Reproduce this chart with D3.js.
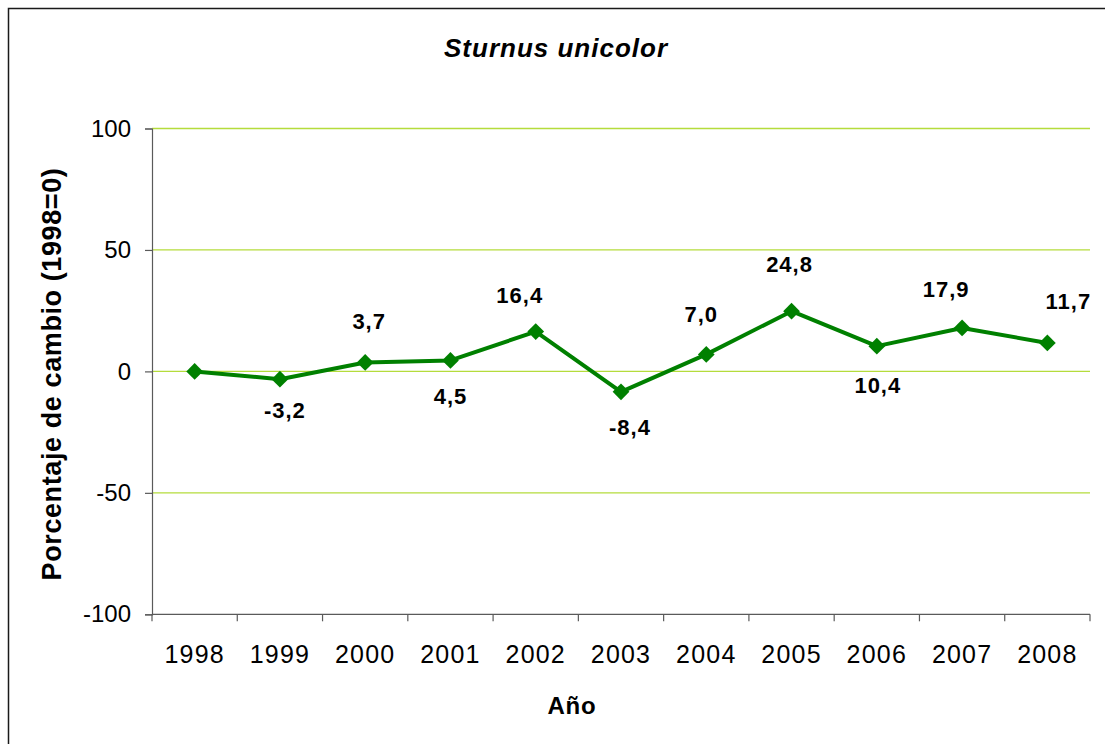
<!DOCTYPE html>
<html>
<head>
<meta charset="utf-8">
<script src="https://cdn.jsdelivr.net/npm/d3@7"></script>
<style>
  html, body { margin: 0; padding: 0; background: #fff; }
  svg { display: block; font-family: Arial, "Liberation Sans", sans-serif; }
</style>
</head>
<body>
<svg id="chart" width="1105" height="744"></svg>
<script>
// Yearly change of the population index (1998 = 0)
const years = ["1998", "1999", "2000", "2001", "2002", "2003", "2004", "2005", "2006", "2007", "2008"];
const change = [0, -3.2, 3.7, 4.5, 16.4, -8.4, 7.0, 24.8, 10.4, 17.9, 11.7];
const showLabel = [false, true, true, true, true, true, true, true, true, true, true];
const yTicks = [-100, -50, 0, 50, 100];
const gridValues = [-50, 0, 50, 100];

// Hand placement of each value label relative to its marker [dx, dy to baseline]
const labelNudge = [[0, 0], [5, 39], [4, -33], [0, 44], [-16, -29], [9, 43], [-5, -32], [-2, -39], [1, 47], [-16, -31], [21, -34]];

const locale = d3.formatLocale({ decimal: ",", thousands: ".", grouping: [3], currency: ["", "€"], minus: "-" });
const fmtValue = locale.format(".1f");
const fmtTick = locale.format("d");

const svg = d3.select("#chart");
const plot = { left: 152, right: 1090, top: 128.5, bottom: 614.3 };

// Outer frame
svg.append("rect")
  .attr("x", 8.5).attr("y", 8.5)
  .attr("width", 1110).attr("height", 750)
  .attr("fill", "none").attr("stroke", "#1a1a1a").attr("stroke-width", 1.5);

const x = d3.scaleBand().domain(years).range([plot.left, plot.right]).padding(0);
const y = d3.scaleLinear().domain([-100, 100]).range([plot.bottom, plot.top]);
const cx = d => x(d) + x.bandwidth() / 2;

// Horizontal gridlines
svg.append("g").selectAll("line").data(gridValues).join("line")
  .attr("x1", plot.left).attr("x2", plot.right)
  .attr("y1", d => y(d)).attr("y2", d => y(d))
  .attr("stroke", "#b5dc3c").attr("stroke-width", 1.3);

// Y axis
const yAxis = svg.append("g")
  .attr("transform", `translate(${plot.left},0)`)
  .call(d3.axisLeft(y).tickValues(yTicks).tickFormat(fmtTick).tickSize(7).tickPadding(14));
yAxis.select(".domain").attr("stroke", "#5a5a5a").attr("stroke-width", 1.2);
yAxis.selectAll(".tick line").attr("stroke", "#5a5a5a").attr("stroke-width", 1.2);
yAxis.selectAll(".tick text")
  .attr("font-size", 24).attr("fill", "#000")
  .attr("font-family", "Arial, 'Liberation Sans', sans-serif");

// X axis: labels centred in each category, tick marks on category borders
const xAxis = svg.append("g")
  .attr("transform", `translate(0,${plot.bottom})`)
  .call(d3.axisBottom(x).tickSize(0).tickPadding(0));
xAxis.select(".domain").remove();
xAxis.selectAll(".tick text")
  .attr("y", 48.7).attr("dy", null)
  .attr("font-size", 25).attr("letter-spacing", 1.2).attr("fill", "#000")
  .attr("font-family", "Arial, 'Liberation Sans', sans-serif");
svg.append("line")
  .attr("x1", plot.left).attr("x2", plot.right)
  .attr("y1", plot.bottom).attr("y2", plot.bottom)
  .attr("stroke", "#5a5a5a").attr("stroke-width", 1.2);
const borders = years.map(d => x(d)).concat([plot.right]);
svg.append("g").selectAll("line").data(borders).join("line")
  .attr("x1", d => d).attr("x2", d => d)
  .attr("y1", plot.bottom).attr("y2", plot.bottom + 7)
  .attr("stroke", "#5a5a5a").attr("stroke-width", 1.2);

// Series line
const pts = years.map((yr, i) => ({ yr, v: change[i], i }));
svg.append("path")
  .datum(pts)
  .attr("fill", "none")
  .attr("stroke", "#008000")
  .attr("stroke-width", 4)
  .attr("stroke-linejoin", "round")
  .attr("d", d3.line().x(d => cx(d.yr)).y(d => y(d.v)));

// Diamond markers
svg.append("g").selectAll("path").data(pts).join("path")
  .attr("d", d3.symbol().type(d3.symbolSquare).size(140))
  .attr("transform", d => `translate(${cx(d.yr)},${y(d.v)}) rotate(45)`)
  .attr("fill", "#008000");

// Value labels
svg.append("g").selectAll("text").data(pts.filter(d => showLabel[d.i])).join("text")
  .attr("x", d => cx(d.yr) + labelNudge[d.i][0])
  .attr("y", d => y(d.v) + labelNudge[d.i][1])
  .attr("text-anchor", "middle")
  .attr("font-size", 22).attr("font-weight", "bold").attr("letter-spacing", 1)
  .attr("fill", "#000")
  .text(d => fmtValue(d.v));

// Titles
svg.append("text")
  .attr("x", 556).attr("y", 56.5)
  .attr("text-anchor", "middle")
  .attr("font-size", 26).attr("font-weight", "bold").attr("font-style", "italic")
  .attr("letter-spacing", 1)
  .text("Sturnus unicolor");

svg.append("text")
  .attr("x", 572).attr("y", 714)
  .attr("text-anchor", "middle")
  .attr("font-size", 24).attr("font-weight", "bold").attr("letter-spacing", 0.8)
  .text("Año");

svg.append("text")
  .attr("transform", "translate(61,374) rotate(-90)")
  .attr("text-anchor", "middle")
  .attr("font-size", 27).attr("font-weight", "bold").attr("letter-spacing", 0.6)
  .text("Porcentaje de cambio (1998=0)");
</script>
</body>
</html>
